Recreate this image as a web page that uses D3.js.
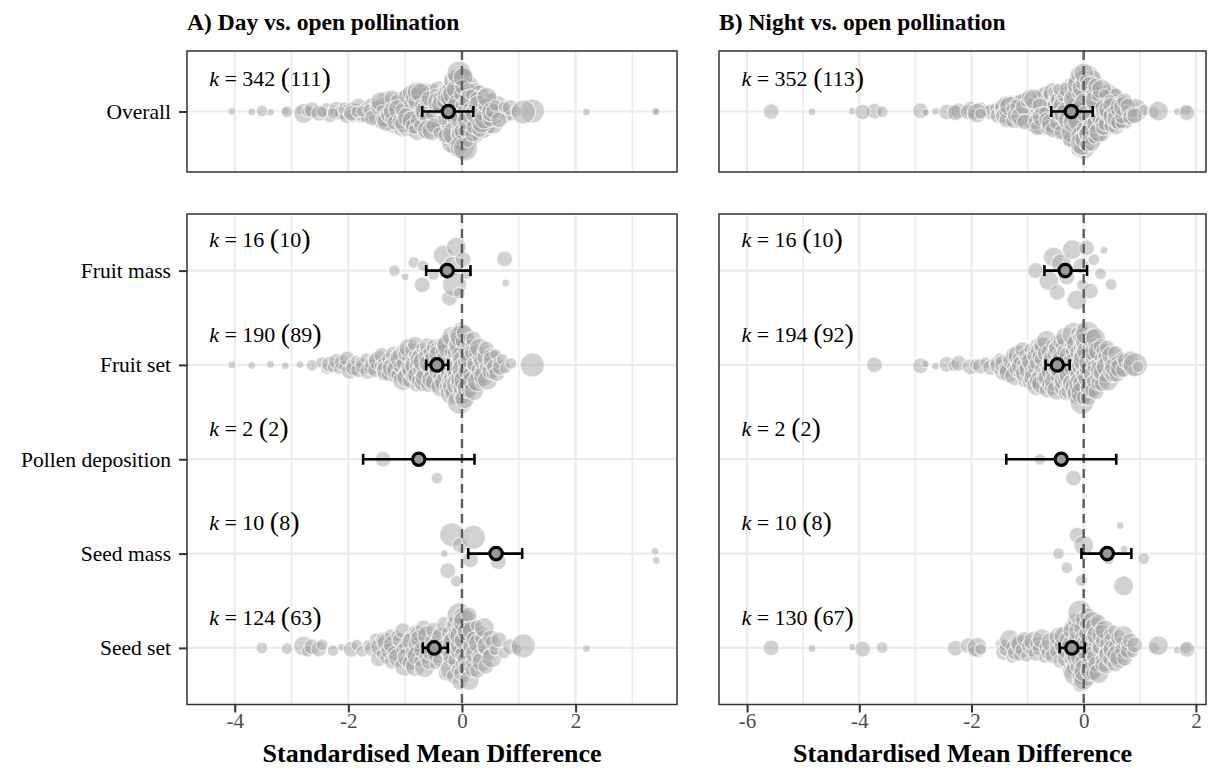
<!DOCTYPE html>
<html>
<head>
<meta charset="utf-8">
<script src="https://cdn.jsdelivr.net/npm/d3@7"></script>
<style>
body { margin: 0; background: #fff; }
text { font-family: "Liberation Serif", "Times New Roman", serif; }
</style>
</head>
<body>
<div id="chart"></div>
<script>
// moderator levels (top to bottom)
const moderators = ["Fruit mass", "Fruit set", "Pollen deposition", "Seed mass", "Seed set"];

// effect sizes: [SMD, precision class 1-5]
// A) day vs open
const dayFruitMass = [[-1.19,2],[-1.00,1],[-0.85,2],[-0.70,3],[-0.68,2],[-0.50,2],[-0.33,4],[-0.22,3],[-0.16,4],[-0.13,5],[-0.10,4],[-0.05,2],[0.02,3],[0.08,2],[0.75,3],[0.77,1]];
const dayFruitSet = [[-4.05,1],[-3.70,1],[-3.37,1],[-3.11,1],[-2.85,1],[-2.64,2],[-2.47,2],
  [-2.38,2],[-2.33,3],[-2.27,2],[-2.21,3],[-2.16,2],[-2.11,3],[-2.07,2],[-2.02,3],
  [-1.98,3],[-1.94,2],[-1.91,3],[-1.86,2],[-1.82,3],[-1.78,2],[-1.74,3],[-1.69,2],[-1.66,3],[-1.62,2],
  [-1.59,3],[-1.55,2],[-1.52,3],[-1.47,4],[-1.44,2],[-1.41,3],
  [-1.39,2],[-1.36,3],[-1.33,4],[-1.31,2],[-1.28,3],[-1.25,2],[-1.23,4],[-1.21,3],
  [-1.19,2],[-1.17,3],[-1.15,4],[-1.13,2],[-1.11,3],[-1.09,4],[-1.07,3],[-1.05,2],[-1.04,4],[-1.02,3],[-1.01,2],
  [-0.99,3],[-0.97,4],[-0.96,2],[-0.94,3],[-0.93,4],[-0.91,3],[-0.90,2],[-0.88,4],[-0.87,3],[-0.85,3],[-0.84,2],[-0.83,4],[-0.82,3],[-0.81,2],
  [-0.79,3],[-0.78,4],[-0.77,2],[-0.75,3],[-0.74,4],[-0.73,3],[-0.71,2],[-0.70,3],[-0.69,4],[-0.67,3],[-0.66,2],[-0.65,4],[-0.63,3],[-0.62,2],[-0.61,3],
  [-0.59,3],[-0.58,4],[-0.56,2],[-0.55,3],[-0.53,4],[-0.52,3],[-0.50,2],[-0.49,3],[-0.47,4],[-0.46,2],[-0.44,3],[-0.43,3],[-0.42,2],[-0.41,4],
  [-0.39,3],[-0.38,2],[-0.37,4],[-0.35,3],[-0.34,2],[-0.33,3],[-0.31,4],[-0.30,3],[-0.29,2],[-0.27,4],[-0.26,3],[-0.25,2],[-0.24,3],[-0.23,5],[-0.22,3],[-0.21,2],
  [-0.19,3],[-0.18,4],[-0.17,5],[-0.16,3],[-0.15,4],[-0.14,2],[-0.13,5],[-0.12,3],[-0.11,4],[-0.10,3],[-0.09,5],[-0.09,2],[-0.08,4],[-0.07,3],[-0.06,5],[-0.06,3],[-0.05,4],[-0.04,2],[-0.04,5],[-0.03,3],[-0.03,4],[-0.02,5],[-0.02,3],[-0.01,4],[-0.01,2],[0.00,5],
  [0.00,3],[0.01,4],[0.01,5],[0.02,3],[0.02,4],[0.03,2],[0.04,5],[0.04,3],[0.05,4],[0.06,3],[0.07,5],[0.08,2],[0.09,4],[0.10,3],[0.11,4],[0.12,2],[0.13,3],[0.14,4],[0.15,3],[0.16,2],[0.17,4],[0.18,3],[0.19,2],[0.20,3],
  [0.21,4],[0.22,3],[0.24,2],[0.25,3],[0.27,4],[0.28,2],[0.30,3],[0.31,4],[0.33,2],[0.34,3],[0.36,3],[0.37,2],[0.38,4],[0.40,3],
  [0.41,2],[0.43,3],[0.45,4],[0.47,2],[0.49,3],[0.51,3],[0.53,2],[0.55,4],[0.57,3],[0.59,2],
  [0.61,3],[0.64,2],[0.67,3],[0.71,2],[0.76,2],[0.86,2],[1.24,5]];
const dayPollen = [[-1.39,3],[-0.44,2]];
const daySeedMass = [[-0.31,1],[-0.25,3],[-0.18,5],[-0.10,2],[-0.03,3],[0.15,3],[0.20,5],[0.64,3],[3.40,1],[3.42,1]];
const daySeedSet = [[-3.52,2],[-3.08,2],[-2.79,4],[-2.72,2],[-2.64,3],[-2.52,3],[-2.46,2],[-2.27,2],[-2.12,1],[-1.95,3],[-1.85,2],[-1.76,2],[-1.64,2],
  [-1.58,3],[-1.52,2],[-1.47,3],[-1.43,4],[-1.41,2],
  [-1.38,3],[-1.35,2],[-1.32,4],[-1.29,3],[-1.26,2],[-1.23,3],[-1.21,4],
  [-1.18,3],[-1.15,2],[-1.12,4],[-1.09,3],[-1.06,2],[-1.04,3],[-1.01,4],
  [-0.98,3],[-0.96,4],[-0.93,2],[-0.91,3],[-0.88,4],[-0.86,3],[-0.84,2],[-0.82,4],[-0.81,3],
  [-0.79,4],[-0.77,3],[-0.75,2],[-0.73,4],[-0.71,3],[-0.68,3],[-0.66,4],[-0.64,2],[-0.62,3],[-0.61,4],
  [-0.58,3],[-0.55,2],[-0.53,4],[-0.50,3],[-0.47,2],[-0.45,3],[-0.43,4],[-0.41,2],
  [-0.38,3],[-0.36,4],[-0.33,2],[-0.31,3],[-0.28,3],[-0.26,4],[-0.24,2],[-0.22,3],[-0.21,4],
  [-0.19,3],[-0.17,4],[-0.16,2],[-0.14,3],[-0.13,5],[-0.11,3],[-0.10,4],[-0.09,2],[-0.07,4],[-0.06,3],[-0.05,5],[-0.04,3],[-0.03,4],[-0.02,2],[-0.01,4],[-0.01,3],[0.00,5],
  [0.01,3],[0.02,4],[0.03,2],[0.04,4],[0.05,3],[0.06,5],[0.07,3],[0.09,4],[0.10,2],[0.12,3],[0.13,4],[0.15,3],[0.16,2],[0.18,4],[0.19,3],
  [0.21,3],[0.23,4],[0.25,2],[0.27,3],[0.29,4],[0.31,3],[0.33,2],[0.35,4],[0.36,3],[0.38,2],[0.39,4],
  [0.42,3],[0.44,4],[0.47,2],[0.50,3],[0.52,4],[0.55,3],[0.58,2],
  [0.65,3],[0.74,2],[0.85,3],[0.95,2],[1.08,5],[2.19,1]];

// B) night vs open
const nightFruitMass = [[-0.86,3],[-0.62,4],[-0.54,4],[-0.47,3],[-0.40,4],[-0.30,3],[-0.20,4],[-0.12,4],[-0.05,3],[-0.02,2],[0.05,3],[0.12,3],[0.18,2],[0.30,2],[0.36,1],[0.49,2]];
const nightFruitSet = [[-3.73,3],[-2.91,3],[-2.82,1],[-2.64,1],[-2.44,3],[-2.31,2],[-2.23,3],[-2.02,3],[-1.93,2],[-1.84,3],[-1.75,2],[-1.66,3],
  [-1.58,2],[-1.53,3],[-1.49,2],[-1.45,3],[-1.41,4],
  [-1.38,3],[-1.35,2],[-1.33,4],[-1.30,3],[-1.27,2],[-1.25,3],[-1.23,4],[-1.21,2],
  [-1.19,3],[-1.17,4],[-1.15,2],[-1.13,3],[-1.11,4],[-1.09,3],[-1.07,2],[-1.05,3],[-1.04,4],[-1.02,3],[-1.01,2],
  [-0.99,3],[-0.98,4],[-0.96,2],[-0.95,3],[-0.93,4],[-0.92,3],[-0.90,2],[-0.89,4],[-0.87,3],[-0.86,3],[-0.85,2],[-0.84,4],[-0.83,3],[-0.82,2],[-0.81,3],
  [-0.79,4],[-0.78,3],[-0.77,2],[-0.76,3],[-0.75,4],[-0.74,3],[-0.72,2],[-0.71,4],[-0.70,3],[-0.69,3],[-0.68,2],[-0.66,4],[-0.65,3],[-0.64,2],[-0.63,4],[-0.62,3],[-0.61,3],
  [-0.59,3],[-0.58,4],[-0.57,2],[-0.56,3],[-0.55,4],[-0.54,3],[-0.53,2],[-0.52,4],[-0.51,3],[-0.50,3],[-0.49,2],[-0.48,4],[-0.47,3],[-0.46,3],[-0.45,4],[-0.44,2],[-0.43,3],[-0.42,4],[-0.41,3],
  [-0.39,3],[-0.38,4],[-0.37,2],[-0.36,3],[-0.35,4],[-0.34,3],[-0.33,2],[-0.32,4],[-0.31,3],[-0.30,3],[-0.29,4],[-0.28,2],[-0.27,3],[-0.26,4],[-0.25,3],[-0.24,2],[-0.23,4],[-0.22,3],[-0.22,5],[-0.21,3],[-0.20,4],
  [-0.19,3],[-0.18,4],[-0.17,5],[-0.16,3],[-0.15,4],[-0.14,2],[-0.13,4],[-0.12,5],[-0.11,3],[-0.10,4],[-0.09,3],[-0.08,5],[-0.08,2],[-0.07,4],[-0.06,3],[-0.05,5],[-0.05,3],[-0.04,4],[-0.03,2],[-0.03,5],[-0.02,3],[-0.02,4],[-0.01,3],[-0.01,5],[0.00,4],[0.00,3],
  [0.01,4],[0.01,3],[0.02,5],[0.03,3],[0.03,4],[0.04,2],[0.05,4],[0.06,3],[0.07,5],[0.08,3],[0.09,4],[0.10,2],[0.11,3],[0.12,4],[0.13,3],[0.14,2],[0.15,4],[0.16,3],[0.17,3],[0.17,4],[0.18,2],[0.19,3],[0.19,4],[0.20,3],
  [0.21,4],[0.22,3],[0.23,2],[0.25,3],[0.26,4],[0.27,3],[0.29,2],[0.30,4],[0.31,3],[0.33,3],[0.34,2],[0.35,4],[0.36,3],[0.38,2],[0.39,3],[0.40,4],
  [0.42,3],[0.44,4],[0.46,2],[0.48,3],[0.50,4],[0.52,3],[0.54,2],[0.55,4],[0.57,3],[0.59,3],
  [0.62,3],[0.65,4],[0.68,2],[0.71,3],[0.74,3],[0.78,2],[0.84,3],[0.89,2],[0.92,5],[0.97,2]];
const nightPollen = [[-0.78,2],[-0.18,3]];
const nightSeedMass = [[-0.45,2],[-0.30,2],[-0.12,3],[-0.04,2],[0.00,4],[0.44,2],[0.65,1],[0.71,4],[0.72,1],[1.07,2]];
const nightSeedSet = [[-5.57,3],[-4.84,1],[-4.12,1],[-3.94,3],[-3.59,2],[-2.29,3],[-2.06,3],[-1.96,2],[-1.90,4],[-1.84,2],
  [-1.47,2],[-1.43,3],[-1.41,2],
  [-1.37,3],[-1.32,4],[-1.28,2],[-1.25,3],[-1.22,3],
  [-1.18,3],[-1.15,2],[-1.12,4],[-1.08,3],[-1.05,3],[-1.02,2],
  [-0.97,3],[-0.93,2],[-0.89,4],[-0.85,3],[-0.82,3],
  [-0.78,3],[-0.74,4],[-0.70,2],[-0.66,3],[-0.62,3],
  [-0.58,4],[-0.55,3],[-0.51,2],[-0.47,3],[-0.44,4],[-0.41,3],
  [-0.39,3],[-0.37,2],[-0.35,4],[-0.33,3],[-0.30,3],[-0.28,4],[-0.26,2],[-0.24,3],[-0.22,4],[-0.21,3],
  [-0.19,4],[-0.18,3],[-0.17,2],[-0.16,4],[-0.15,3],[-0.14,5],[-0.13,3],[-0.12,4],[-0.11,2],[-0.10,3],[-0.09,4],[-0.08,3],[-0.07,5],[-0.06,3],[-0.05,4],[-0.05,2],[-0.04,3],[-0.03,4],[-0.02,3],[-0.02,5],[-0.01,3],[0.00,4],
  [0.01,3],[0.02,4],[0.03,2],[0.04,5],[0.05,3],[0.06,4],[0.07,3],[0.08,2],[0.09,4],[0.10,3],[0.11,3],[0.12,4],[0.13,2],[0.15,3],[0.16,4],[0.17,3],[0.18,2],[0.19,3],[0.20,4],
  [0.21,3],[0.23,4],[0.24,2],[0.26,3],[0.27,4],[0.29,3],[0.31,2],[0.32,4],[0.34,3],[0.35,3],[0.37,2],[0.38,4],[0.40,3],
  [0.42,3],[0.44,4],[0.46,2],[0.48,3],[0.50,3],[0.52,4],[0.54,2],[0.56,3],[0.58,3],[0.59,4],
  [0.62,3],[0.64,4],[0.67,2],[0.69,3],[0.71,4],[0.73,3],[0.76,2],[0.79,3],
  [0.83,3],[0.87,2],[0.91,3],[1.25,2],[1.33,4],[1.67,1],[1.82,2],[1.84,3]];

// number of studies per moderator level, and overall
const dayStudies = [10, 89, 2, 8, 63];
const dayStudiesAll = 111;
const nightStudies = [10, 92, 2, 8, 67];
const nightStudiesAll = 113;

// model estimates: [mean, lower CI, upper CI]
const dayOverallEst = [-0.24, -0.70, 0.20];
const dayEst = [[-0.26,-0.63,0.15],[-0.44,-0.63,-0.24],[-0.76,-1.74,0.22],[0.60,0.11,1.06],[-0.49,-0.69,-0.25]];
const nightOverallEst = [-0.22, -0.58, 0.16];
const nightEst = [[-0.33,-0.70,0.06],[-0.47,-0.68,-0.25],[-0.40,-1.38,0.58],[0.42,-0.04,0.85],[-0.21,-0.43,0.02]];

// axis ticks
const dayTicks = [-4, -2, 0, 2];
const dayMinor = [-3, -1, 1, 3];
const nightTicks = [-6, -4, -2, 0, 2];
const nightMinor = [-5, -3, -1, 1];

let width = 1210, height = 772;
let svg = d3.select("#chart").append("svg")
    .attr("width", width)
    .attr("height", height);
svg.append("rect").attr("width", width).attr("height", height).attr("fill", "#fff");

let rScale = d3.scaleLinear().domain([1, 5]).range([3.8, 12]);

// van der Corput sequence, base 2 (as in vipor)
function vdc(n) {
    let out = [];
    for (let i = 1; i <= n; i++) {
        let v = 0, denom = 1, k = i;
        while (k > 0) { denom *= 2; v += (k % 2) / denom; k = Math.floor(k / 2); }
        out.push(v);
    }
    return out;
}

// quasirandom offsets in [-1, 1], scaled by kernel density
function quasiOffsets(vals) {
    let n = vals.length;
    if (n < 2) return vals.map(() => 0);
    let sorted = vals.slice().sort(d3.ascending);
    let sd = d3.deviation(vals);
    let iqr = (d3.quantileSorted(sorted, 0.75) - d3.quantileSorted(sorted, 0.25)) / 1.34;
    let lo = Math.min(sd, iqr);
    if (!(lo > 0)) lo = sd || 1;
    let bw = 0.9 * lo * Math.pow(n, -0.2) * 0.5;
    let dens = x => d3.sum(vals, v => Math.exp(-0.5 * ((x - v) / bw) ** 2));
    let a = sorted[0] - 3 * bw, b = sorted[n - 1] + 3 * bw;
    let grid = d3.range(1024).map(i => a + i * (b - a) / 1023);
    let dmax = Math.max(d3.max(grid, dens), d3.max(vals, dens));
    let idx = d3.range(n).sort((i, j) => vals[i] - vals[j] || i - j);
    let seq = vdc(n);
    let off = new Array(n);
    idx.forEach((i, r) => { off[i] = (seq[r] - 0.5) * 2 * dens(vals[i]) / dmax; });
    return off;
}

const cols = [
    {title: "A) Day vs. open pollination",
     groups: [dayFruitMass, dayFruitSet, dayPollen, daySeedMass, daySeedSet],
     studies: dayStudies, studiesAll: dayStudiesAll, est: dayEst, overallEst: dayOverallEst,
     domain: [-4.84, 3.785], ticks: dayTicks, minor: dayMinor, kX: -4.45,
     x0: 187, x1: 677, showY: true},
    {title: "B) Night vs. open pollination",
     groups: [nightFruitMass, nightFruitSet, nightPollen, nightSeedMass, nightSeedSet],
     studies: nightStudies, studiesAll: nightStudiesAll, est: nightEst, overallEst: nightOverallEst,
     domain: [-6.50, 2.18], ticks: nightTicks, minor: nightMinor, kX: -6.10,
     x0: 719, x1: 1206, showY: false}
];

function kLabel(sel, k, n) {
    sel.append("tspan").attr("font-style", "italic").text("k");
    sel.append("tspan").text(" = " + k + " ");
    sel.append("tspan").attr("font-size", "28px").text("(");
    sel.append("tspan").text(n);
    sel.append("tspan").attr("font-size", "28px").text(")");
}

function drawPanel(col, y0, y1, levels, groups, studies, est, showX) {
    let x = d3.scaleLinear().domain(col.domain).range([col.x0, col.x1]);
    let y = d3.scalePoint().domain(levels).range([y0, y1]).padding(0.6);
    let step = y.step();
    let g = svg.append("g");

    // grid
    g.selectAll(".minor").data(col.minor).enter().append("line")
        .attr("x1", d => x(d)).attr("x2", d => x(d)).attr("y1", y0).attr("y2", y1)
        .attr("stroke", "#ebebeb").attr("stroke-width", 1.6);
    g.selectAll(".major").data(col.ticks).enter().append("line")
        .attr("x1", d => x(d)).attr("x2", d => x(d)).attr("y1", y0).attr("y2", y1)
        .attr("stroke", "#ebebeb").attr("stroke-width", 2.2);
    g.selectAll(".hgrid").data(levels).enter().append("line")
        .attr("x1", col.x0).attr("x2", col.x1).attr("y1", d => y(d)).attr("y2", d => y(d))
        .attr("stroke", "#ebebeb").attr("stroke-width", 2.2);

    // effect sizes
    groups.forEach((grp, i) => {
        let off = quasiOffsets(grp.map(d => d[0]));
        let cy = y(levels[i]);
        g.selectAll(null).data(grp).enter().append("circle")
            .attr("cx", d => x(d[0]))
            .attr("cy", (d, j) => cy - off[j] * 0.4 * step)
            .attr("r", d => rScale(d[1]))
            .attr("fill", "#a6a6a6").attr("fill-opacity", 0.5)
            .attr("stroke", "#fff").attr("stroke-opacity", 0.6).attr("stroke-width", 1.3);
    });

    // zero line
    g.append("line")
        .attr("x1", x(0)).attr("x2", x(0)).attr("y1", y0).attr("y2", y1)
        .attr("stroke", "#5e5e5e").attr("stroke-width", 2.4).attr("stroke-dasharray", "9,6");

    // estimates with CI
    est.forEach((e, i) => {
        let cy = y(levels[i]);
        g.append("line").attr("x1", x(e[1])).attr("x2", x(e[2])).attr("y1", cy).attr("y2", cy)
            .attr("stroke", "#000").attr("stroke-width", 2.6);
        [e[1], e[2]].forEach(v => g.append("line")
            .attr("x1", x(v)).attr("x2", x(v)).attr("y1", cy - 5.5).attr("y2", cy + 5.5)
            .attr("stroke", "#000").attr("stroke-width", 2.6));
        g.append("circle").attr("cx", x(e[0])).attr("cy", cy).attr("r", 6.2)
            .attr("fill", "#999").attr("stroke", "#000").attr("stroke-width", 3.2);
    });

    // k labels
    levels.forEach((lv, i) => {
        g.append("text")
            .attr("x", x(col.kX)).attr("y", y(lv) - 0.3 * step)
            .attr("dominant-baseline", "middle")
            .attr("font-size", "22px").attr("fill", "#000")
            .call(kLabel, groups[i].length, studies[i]);
    });

    // border
    g.append("rect").attr("x", col.x0).attr("y", y0)
        .attr("width", col.x1 - col.x0).attr("height", y1 - y0)
        .attr("fill", "none").attr("stroke", "#333").attr("stroke-width", 1.5);

    if (col.showY) {
        let ay = g.append("g").attr("transform", "translate(" + col.x0 + ",0)")
            .call(d3.axisLeft(y).tickSize(8).tickPadding(8));
        ay.select(".domain").remove();
        ay.selectAll("line").attr("stroke", "#333").attr("stroke-width", 2);
        ay.selectAll("text").attr("font-size", "21.5px").attr("fill", "#000")
            .attr("font-family", "Liberation Serif, Times New Roman, serif");
    }
    if (showX) {
        let ax = g.append("g").attr("transform", "translate(0," + y1 + ")")
            .call(d3.axisBottom(x).tickValues(col.ticks).tickSize(8).tickPadding(1).tickFormat(d => String(d)));
        ax.select(".domain").remove();
        ax.selectAll("line").attr("stroke", "#333").attr("stroke-width", 2);
        ax.selectAll("text").attr("font-size", "21px").attr("fill", "#4d4d4d")
            .attr("font-family", "Liberation Serif, Times New Roman, serif");
        g.append("text")
            .attr("x", (col.x0 + col.x1) / 2).attr("y", 762)
            .attr("text-anchor", "middle")
            .attr("font-size", "26px").attr("font-weight", "bold")
            .text("Standardised Mean Difference");
    }
}

cols.forEach(col => {
    svg.append("text")
        .attr("x", col.x0).attr("y", 30)
        .attr("font-size", "23.5px").attr("font-weight", "bold")
        .text(col.title);
    let all = [].concat(...col.groups);
    drawPanel(col, 51, 172, ["Overall"], [all], [col.studiesAll], [col.overallEst], false);
    drawPanel(col, 214, 704.5, moderators, col.groups, col.studies, col.est, true);
});
</script>
</body>
</html>
